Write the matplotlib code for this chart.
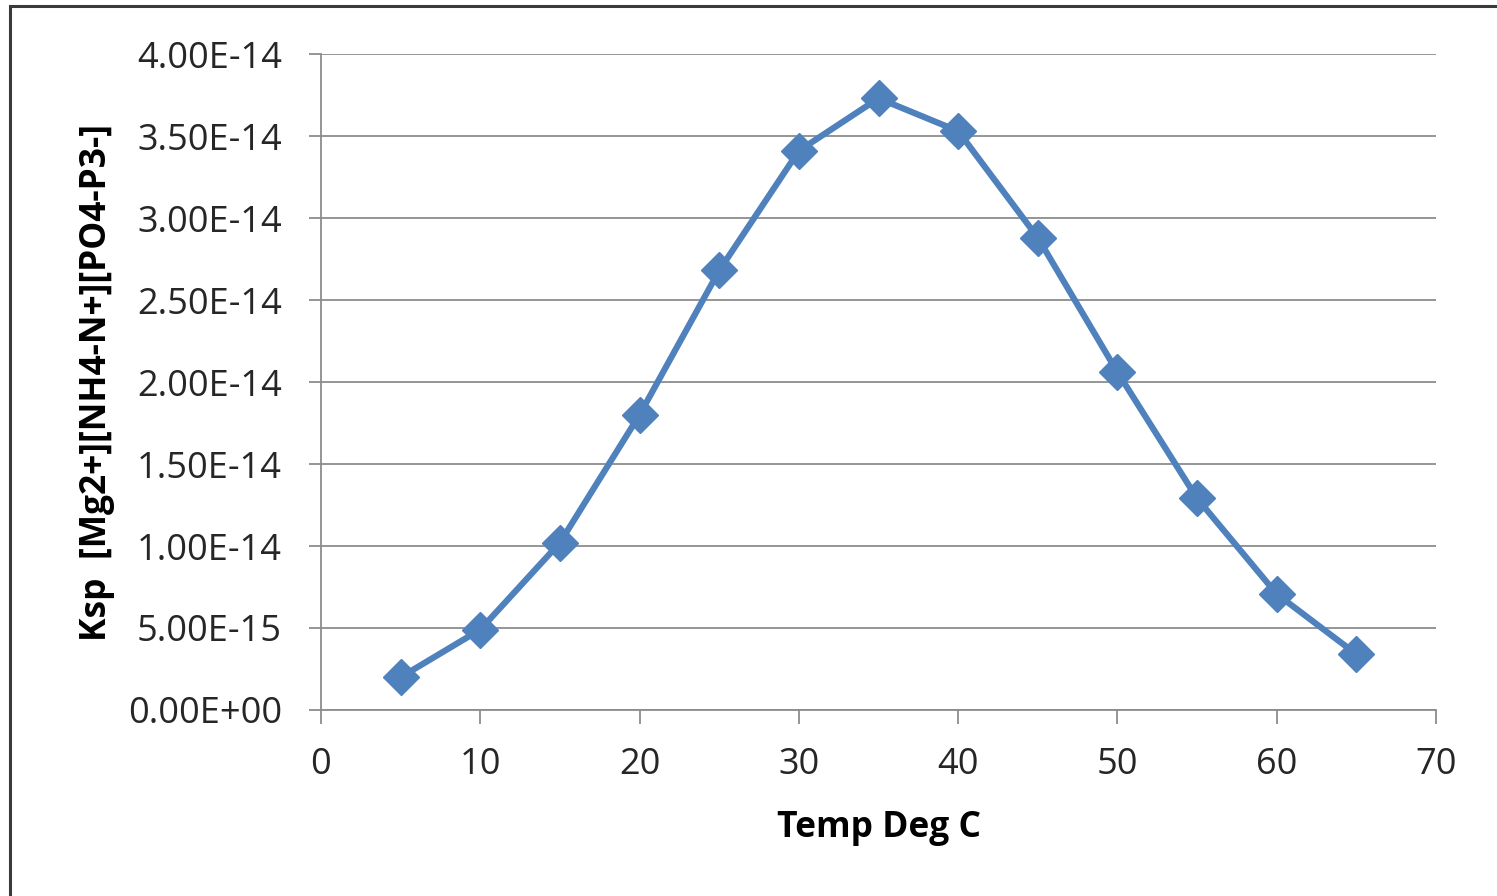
import matplotlib.pyplot as plt
from matplotlib.patches import Rectangle
from matplotlib.ticker import FuncFormatter

# Ksp of struvite vs temperature
temp = [5, 10, 15, 20, 25, 30, 35, 40, 45, 50, 55, 60, 65]
ksp = [2.0e-15, 4.9e-15, 1.02e-14, 1.80e-14, 2.68e-14, 3.41e-14, 3.73e-14,
       3.53e-14, 2.88e-14, 2.06e-14, 1.29e-14, 7.07e-15, 3.4e-15]

plt.rcParams['font.family'] = ['Open Sans', 'DejaVu Sans']

fig = plt.figure(figsize=(14.97, 8.96), dpi=100)
ax = fig.add_axes([0.2144, 0.2076, 0.9593 - 0.2144, 0.9397 - 0.2076])

# outer chart border (cropped on right/bottom)
fig.patches.append(Rectangle((10 / 1497, -0.05), 1.1, (890 / 896) + 0.05, transform=fig.transFigure,
                             fill=False, edgecolor='#3a3a3a', lw=2.2))

ax.plot(temp, ksp, color='#4F81BD', lw=4.5, marker='D', markersize=18,
        markeredgecolor='#4F81BD', clip_on=False, zorder=3)

ax.set_xlim(0, 70)
ax.set_ylim(0, 4e-14)
ax.set_xticks(range(0, 71, 10))
ax.set_yticks([i * 0.5e-14 for i in range(9)])
ax.yaxis.set_major_formatter(FuncFormatter(lambda v, p: f'{v:.2E}'.replace('E-0', 'E-')))
ax.yaxis.grid(True, color='#8c8c8c', lw=1.3)
ax.set_axisbelow(True)

for s in ['top', 'right']:
    ax.spines[s].set_visible(False)
for s in ['left', 'bottom']:
    ax.spines[s].set_color('#8c8c8c')
    ax.spines[s].set_linewidth(1.3)
ax.tick_params(axis='y', length=9, width=1.3, color='#8c8c8c', labelsize=26, pad=19, labelcolor='#262626')
ax.tick_params(axis='x', length=10, width=1.3, color='#8c8c8c', labelsize=26, pad=17, labelcolor='#262626')

ax.set_xlabel('Temp Deg C', fontsize=25.5, fontweight='bold', labelpad=19)
ax.set_ylabel('Ksp  [Mg2+][NH4-N+][PO4-P3-]', fontsize=25.5, fontweight='bold', labelpad=9)

fig.savefig('out.png', dpi=100)
